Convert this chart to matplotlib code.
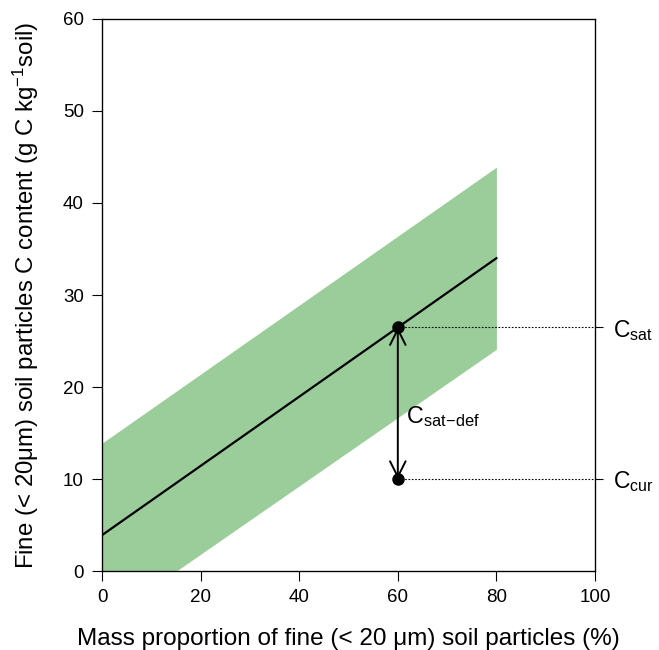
import matplotlib
matplotlib.use("Agg")
import matplotlib.pyplot as plt
import numpy as np

plt.rcParams['font.family'] = ['Liberation Sans', 'DejaVu Sans']
plt.rcParams['mathtext.fontset'] = 'custom'
plt.rcParams['mathtext.rm'] = 'Liberation Sans'
plt.rcParams['mathtext.it'] = 'Liberation Sans'

# regression line and band
x_fit = [0, 80]
y_fit = [3.9, 34.0]
y_upper = [13.9, 43.9]
y_lower = [-5.6, 24.1]

# saturation / current points
x_pt = 60
c_sat = 26.5
c_cur = 10.0

x_ticks = [0, 20, 40, 60, 80, 100]
y_ticks = [0, 10, 20, 30, 40, 50, 60]

fig = plt.figure(figsize=(6.59, 6.5), dpi=100)
ax = fig.add_axes([0.1548, 0.1215, 0.9029 - 0.1548, 0.9708 - 0.1215])

ax.fill_between(x_fit, y_lower, y_upper, color='#9bcd9b', lw=0)
ax.plot(x_fit, y_fit, color='black', lw=1.6)

ax.plot([x_pt, 100], [c_sat, c_sat], color='black', ls=(0, (1.5, 1.5)), lw=0.8, clip_on=False)
ax.plot([x_pt, 100], [c_cur, c_cur], color='black', ls=(0, (1.5, 1.5)), lw=0.8, clip_on=False)

ax.annotate('', xy=(x_pt, c_cur), xytext=(x_pt, c_sat),
            arrowprops=dict(arrowstyle='<->,head_length=0.8,head_width=0.4',
                            lw=1.4, color='black', shrinkA=0, shrinkB=0,
                            mutation_scale=14))
ax.plot([x_pt, x_pt], [c_sat, c_cur], 'o', color='black', ms=8, zorder=5)

ax.text(61.6, 16.1, r'C$_{\mathregular{sat\!-\!def}}$', fontsize=16.8, va='baseline', ha='left')

ax.set_xlim(0, 100)
ax.set_ylim(0, 60)
ax.set_xticks(x_ticks)
ax.set_yticks(y_ticks)
ax.tick_params(direction='out', length=7, width=0.8, labelsize=13.5, pad=6)
for s in ax.spines.values():
    s.set_linewidth(0.9)

ax2 = ax.twinx()
ax2.set_ylim(0, 60)
ax2.set_yticks([c_sat, c_cur])
ax2.set_yticklabels([r'C$_{\mathregular{sat}}$', r'C$_{\mathregular{cur}}$'])
ax2.tick_params(direction='out', length=6, width=0.8, labelsize=16.5, pad=7)

ax.set_xlabel('Mass proportion of fine (< 20 μm) soil particles (%)', fontsize=17.5, labelpad=16)
ax.set_ylabel(r'Fine (< 20μm) soil particles C content (g C kg$^{-1}$soil)', fontsize=17.3, labelpad=16)

fig.savefig('out.png', dpi=100)
